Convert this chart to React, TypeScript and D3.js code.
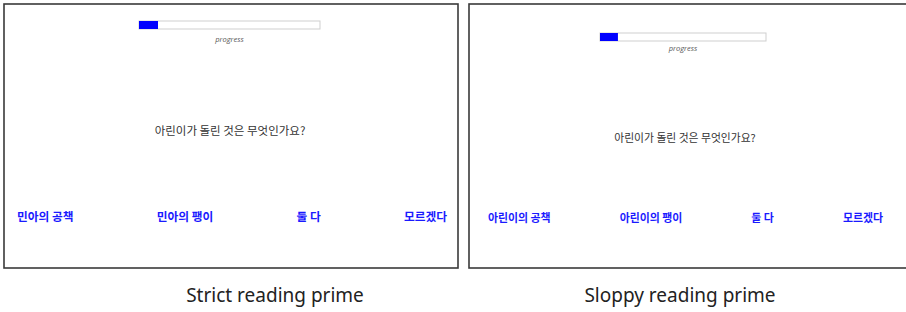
import React, { useEffect, useRef } from "react";
import * as d3 from "d3";

// data
const panelTitles = ["Strict reading prime", "Sloppy reading prime"];
const progressValues = [0.105, 0.108];
const progressLabel = "progress";
const questions = ["아린이가 돌린 것은 무엇인가요?", "아린이가 돌린 것은 무엇인가요?"];
const strictAnswers = ["민아의 공책", "민아의 팽이", "둘 다", "모르겠다"];
const sloppyAnswers = ["아린이의 공책", "아린이의 팽이", "둘 다", "모르겠다"];
const answerSets = [strictAnswers, sloppyAnswers];

type Layout = {
    box: [number, number, number, number];
    bar: [number, number, number, number];
    labelY: number;
    qx: number;
    qy: number;
    qSize: number;
    ansY: number;
    ansRange: [number, number];
    ansSize: number;
    titleX: number;
};

const layouts: Layout[] = [
    {box: [4, 4, 454, 264], bar: [139, 21, 181, 8], labelY: 42, qx: 230, qy: 130, qSize: 11.5, ansY: 215, ansRange: [17, 447], ansSize: 11.7, titleX: 275},
    {box: [469, 4, 445, 264], bar: [600, 33, 166, 8], labelY: 51, qx: 685, qy: 137, qSize: 10.8, ansY: 217, ansRange: [488, 883], ansSize: 10.9, titleX: 680},
];

const W = 906, H = 312;
const KR = "'Noto Sans CJK KR', 'Noto Sans', sans-serif";

export default function App() {
    const ref = useRef<SVGSVGElement>(null);

    useEffect(() => {
        const svg = d3.select(ref.current);
        svg.selectAll("*").remove();

        layouts.forEach((L, i) => {
            const g = svg.append("g");
            const [bx, by, bw, bh] = L.box;
            g.append("rect")
                .attr("x", bx).attr("y", by).attr("width", bw).attr("height", bh)
                .attr("fill", "#fff").attr("stroke", "#3a3a3a").attr("stroke-width", 1.6);

            // progress bar
            const [px, py, pw, ph] = L.bar;
            const x = d3.scaleLinear().domain([0, 1]).range([px, px + pw]);
            g.append("rect")
                .attr("x", x(0)).attr("y", py).attr("width", x(1) - x(0)).attr("height", ph)
                .attr("fill", "#fff").attr("stroke", "#cfcfcf").attr("stroke-width", 1);
            g.append("rect")
                .attr("x", x(0)).attr("y", py).attr("width", x(progressValues[i]) - x(0)).attr("height", ph)
                .attr("fill", "#0000ff");
            g.append("text")
                .attr("x", px + pw / 2).attr("y", L.labelY)
                .attr("text-anchor", "middle")
                .style("font-family", "'Open Sans', sans-serif")
                .style("font-style", "italic")
                .style("font-size", "7.5px")
                .style("fill", "#555")
                .text(progressLabel);

            // question
            g.append("text")
                .attr("x", L.qx).attr("y", L.qy)
                .attr("text-anchor", "middle")
                .attr("dominant-baseline", "central")
                .style("font-family", KR)
                .style("font-size", `${L.qSize}px`)
                .style("fill", "#333")
                .text(questions[i]);

            // answers, spread with space-between
            const answers = answerSets[i];
            const texts = g.selectAll<SVGTextElement, string>(".ans")
                .data(answers)
                .join("text")
                .attr("class", "ans")
                .attr("y", L.ansY)
                .attr("dominant-baseline", "central")
                .style("font-family", KR)
                .style("font-weight", "bold")
                .style("font-size", `${L.ansSize}px`)
                .style("fill", "#1a1aff")
                .text(d => d);
            const widths = texts.nodes().map(n => n.getComputedTextLength());
            const total = d3.sum(widths);
            const gap = (L.ansRange[1] - L.ansRange[0] - total) / (answers.length - 1);
            const starts = d3.cumsum(widths.map(w => w + gap));
            texts.attr("x", (_, j) => L.ansRange[0] + (j === 0 ? 0 : starts[j - 1]));

            // caption
            svg.append("text")
                .attr("x", L.titleX).attr("y", 302)
                .attr("text-anchor", "middle")
                .style("font-family", "'Noto Sans', sans-serif")
                .style("font-size", "19px")
                .style("fill", "#222")
                .text(panelTitles[i]);
        });
    }, []);

    return (
        <svg ref={ref} width={W} height={H}
             style={{position: "absolute", left: 0, top: 0, background: "#fff"}}/>
    );
}
